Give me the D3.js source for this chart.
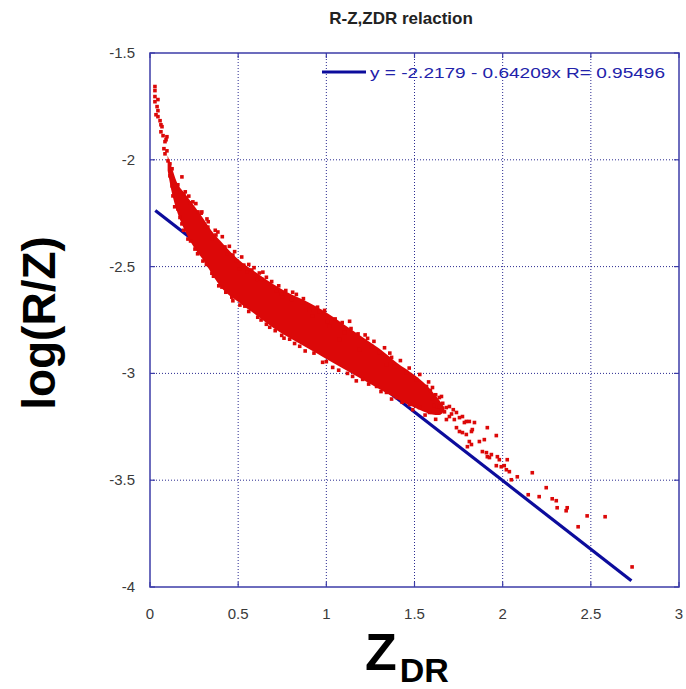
<!DOCTYPE html>
<html>
<head>
<meta charset="utf-8">
<script src="https://cdn.jsdelivr.net/npm/d3@7"></script>
<style>
  html, body { margin: 0; padding: 0; background: #fff; }
  svg { display: block; }
  text { font-family: "Liberation Sans", Arial, sans-serif; }
</style>
</head>
<body>
<svg id="chart" width="686" height="689"></svg>
<script>
// Axis ticks
const xTicks = [0, 0.5, 1, 1.5, 2, 2.5, 3];
const yTicks = [-4, -3.5, -3, -2.5, -2, -1.5];

// Linear fit log(R/Z) = a + b * ZDR and its correlation
const fitA = -2.2179;
const fitB = -0.64209;
const fitR = 0.95496;
const fitRange = [0.03, 2.73];

// Dense core of the sample cloud: upper / lower envelope along ZDR
const coreZdr   = [0.10, 0.125, 0.15, 0.20, 0.25, 0.30, 0.35, 0.40, 0.50, 0.60, 0.70, 0.80, 0.90, 1.00, 1.10, 1.20, 1.30, 1.40, 1.50, 1.55, 1.60, 1.64, 1.67];
const coreUpper = [-1.980, -2.040, -2.100, -2.160, -2.215, -2.272, -2.333, -2.380, -2.466, -2.527, -2.583, -2.630, -2.668, -2.715, -2.771, -2.827, -2.884, -2.950, -3.008, -3.042, -3.085, -3.125, -3.160];
const coreLower = [-2.050, -2.158, -2.233, -2.336, -2.411, -2.467, -2.533, -2.594, -2.665, -2.726, -2.787, -2.838, -2.885, -2.932, -2.979, -3.026, -3.073, -3.120, -3.160, -3.178, -3.192, -3.195, -3.175];

// Individual samples (ZDR, log(R/Z))
const sampleZdr = [
  0.028,0.028,0.028,0.045,0.028,0.040,0.045,0.034,0.045,0.057,0.062,0.068,0.062,0.074,0.096,0.091,0.085,0.079,0.096,0.085,0.102,0.113,0.125,0.113,0.130,0.125,0.181,0.153,0.170,
  0.243,0.294,0.323,0.311,0.385,0.351,0.436,0.492,0.509,0.549,0.606,0.640,0.719,0.809,0.753,
  1.132,1.008,1.104,1.234,1.370,1.341,
  0.158,0.192,0.226,0.272,0.328,0.374,0.425,0.470,0.532,0.577,0.634,0.691,0.747,0.804,0.866,
  0.906,0.962,0.923,1.019,1.075,1.189,1.257,1.302,1.387,1.455,1.511,1.568,1.602,1.653,1.698,1.738,1.794,
  0.130,0.158,0.181,0.215,0.255,0.300,0.351,0.408,0.464,0.538,0.611,0.679,0.747,0.792,0.849,0.979,1.036,1.149,1.206,1.285,1.341,1.398,1.472,1.528,1.585,1.681,
  1.641,1.641,1.698,1.726,1.755,1.772,1.783,1.811,1.840,1.738,1.755,1.772,1.794,1.823,1.828,1.913,1.964,1.811,1.823,1.800,1.868,1.896,1.885,1.908,1.913,1.936,1.925,1.970,1.981,1.964,1.992,2.009,2.026,2.021,2.038,2.049,2.083,2.168,2.145,2.207,2.247,2.281,2.304,2.309,2.360,2.366,2.479,2.581,2.428,2.734,
  1.590,1.600,1.610,1.620,1.630,1.660,1.670,1.680,1.710,1.720,
  0.20,0.22,0.26,0.29,0.33,0.37,0.41,0.45,0.48,0.52,0.56,0.59,0.62,0.66,0.69,0.73,0.77,0.83,0.87,0.95,0.99,1.05,1.09,1.14,1.18,1.22,1.27,1.33,1.36,1.42,1.47,1.53,1.58,
  0.14,0.17,0.19,0.23,0.27,0.32,0.36,0.39,0.43,0.47,0.51,0.56,0.63,0.66,0.71,0.76,0.82,0.88,0.93,1.00,1.07,1.12,1.17,1.24,1.31,1.37,1.43,1.49,1.56,1.62
];
const sampleLogRZ = [
  -1.657,-1.676,-1.704,-1.718,-1.728,-1.751,-1.770,-1.789,-1.798,-1.817,-1.836,-1.845,-1.869,-1.887,-1.892,-1.906,-1.915,-1.948,-1.958,-1.972,-2.005,-2.019,-2.042,-2.075,-2.099,-2.122,-2.080,-2.136,-2.150,
  -2.197,-2.244,-2.277,-2.315,-2.338,-2.371,-2.441,-2.474,-2.512,-2.526,-2.559,-2.526,-2.615,-2.620,-2.643,
  -2.756,-2.756,-2.808,-2.836,-2.925,-2.958,
  -2.117,-2.160,-2.202,-2.244,-2.315,-2.352,-2.408,-2.446,-2.493,-2.516,-2.559,-2.596,-2.629,-2.653,-2.671,
  -2.700,-2.709,-2.732,-2.779,-2.840,-2.887,-2.873,-2.901,-2.967,-2.995,-3.028,-3.061,-3.066,-3.108,-3.155,-3.183,-3.225,
  -2.169,-2.230,-2.300,-2.371,-2.418,-2.474,-2.531,-2.596,-2.643,-2.685,-2.737,-2.784,-2.822,-2.840,-2.873,-2.948,-2.972,-3.014,-3.028,-3.061,-3.089,-3.113,-3.146,-3.160,-3.183,-3.216,
  -3.113,-3.155,-3.202,-3.216,-3.207,-3.202,-3.230,-3.225,-3.230,-3.254,-3.272,-3.277,-3.286,-3.272,-3.263,-3.254,-3.291,-3.319,-3.333,-3.343,-3.319,-3.310,-3.366,-3.371,-3.390,-3.380,-3.394,-3.390,-3.404,-3.432,-3.437,-3.432,-3.404,-3.451,-3.460,-3.498,-3.484,-3.465,-3.568,-3.577,-3.535,-3.587,-3.596,-3.629,-3.643,-3.629,-3.667,-3.671,-3.718,-3.906,
  -3.080,-3.120,-3.150,-3.100,-3.175,-3.140,-3.180,-3.160,-3.190,-3.170,
  -2.150,-2.170,-2.205,-2.250,-2.290,-2.330,-2.360,-2.405,-2.430,-2.455,-2.490,-2.505,-2.530,-2.550,-2.570,-2.590,-2.612,-2.630,-2.650,-2.690,-2.705,-2.745,-2.762,-2.790,-2.815,-2.820,-2.850,-2.880,-2.905,-2.940,-2.975,-3.005,-3.040,
  -2.220,-2.270,-2.330,-2.380,-2.440,-2.490,-2.545,-2.590,-2.620,-2.660,-2.680,-2.710,-2.750,-2.770,-2.800,-2.835,-2.860,-2.895,-2.905,-2.945,-2.985,-3.000,-3.035,-3.050,-3.085,-3.120,-3.135,-3.170,-3.195,-3.215
];

const svg = d3.select("#chart");
const frame = { left: 150, right: 679, top: 53, bottom: 587 };

const x = d3.scaleLinear().domain([0, 3]).range([frame.left, frame.right]);
const y = d3.scaleLinear().domain([-4, -1.5]).range([frame.bottom, frame.top]);

const gridColor = "#2a2a90";
const frameColor = "#3c3ca8";
const red = "#dc0808";

svg.append("rect").attr("width", 686).attr("height", 689).attr("fill", "#fff");

// Dotted grid
const grid = svg.append("g");
grid.selectAll("line.gx").data(xTicks.slice(1, -1)).join("line")
  .attr("x1", d => x(d)).attr("x2", d => x(d))
  .attr("y1", frame.top).attr("y2", frame.bottom)
  .attr("stroke", gridColor).attr("stroke-width", 1).attr("stroke-dasharray", "1,2");
grid.selectAll("line.gy").data(yTicks.slice(1, -1)).join("line")
  .attr("y1", d => y(d)).attr("y2", d => y(d))
  .attr("x1", frame.left).attr("x2", frame.right)
  .attr("stroke", gridColor).attr("stroke-width", 1).attr("stroke-dasharray", "1,2");

// Fit line
const fitLine = fitRange.map(z => [z, fitA + fitB * z]);
svg.append("path")
  .attr("d", d3.line().x(d => x(d[0])).y(d => y(d[1]))(fitLine))
  .attr("stroke", "#0c0c9c").attr("stroke-width", 3.2).attr("fill", "none");

// Core of the cloud
const core = coreZdr.map((z, i) => ({ z, hi: coreUpper[i], lo: coreLower[i] }));
svg.append("path")
  .attr("d", d3.area().x(d => x(d.z)).y0(d => y(d.lo)).y1(d => y(d.hi)).curve(d3.curveMonotoneX)(core))
  .attr("fill", red);

// Samples
const samples = sampleZdr.map((z, i) => [z, sampleLogRZ[i]]);
svg.append("g").selectAll("rect").data(samples).join("rect")
  .attr("x", d => x(d[0]) - 1.8).attr("y", d => y(d[1]) - 1.8)
  .attr("width", 3.6).attr("height", 3.6)
  .attr("fill", red);

// Frame and inward ticks
svg.append("rect")
  .attr("x", frame.left).attr("y", frame.top)
  .attr("width", frame.right - frame.left).attr("height", frame.bottom - frame.top)
  .attr("fill", "none").attr("stroke", frameColor).attr("stroke-width", 1.5);

const tickLen = 5;
const ticks = svg.append("g").attr("stroke", frameColor).attr("stroke-width", 1.2);
xTicks.forEach(d => {
  ticks.append("line").attr("x1", x(d)).attr("x2", x(d)).attr("y1", frame.bottom).attr("y2", frame.bottom - tickLen);
  ticks.append("line").attr("x1", x(d)).attr("x2", x(d)).attr("y1", frame.top).attr("y2", frame.top + tickLen);
});
yTicks.forEach(d => {
  ticks.append("line").attr("y1", y(d)).attr("y2", y(d)).attr("x1", frame.left).attr("x2", frame.left + tickLen);
  ticks.append("line").attr("y1", y(d)).attr("y2", y(d)).attr("x1", frame.right).attr("x2", frame.right - tickLen);
});

// Tick labels
svg.append("g").selectAll("text").data(xTicks).join("text")
  .attr("x", d => x(d)).attr("y", frame.bottom + 32)
  .attr("text-anchor", "middle")
  .attr("font-size", 15).attr("fill", "#3a3a3a")
  .text(d => String(d));
svg.append("g").selectAll("text").data(yTicks).join("text")
  .attr("x", frame.left - 15).attr("y", d => y(d) + 5)
  .attr("text-anchor", "end")
  .attr("font-size", 15).attr("fill", "#3a3a3a")
  .text(d => String(d));

// Title
svg.append("text")
  .attr("x", 401).attr("y", 24)
  .attr("text-anchor", "middle")
  .attr("font-size", 17).attr("font-weight", "bold").attr("fill", "#222")
  .text("R-Z,ZDR relaction");

// Legend
svg.append("line")
  .attr("x1", 322).attr("x2", 366).attr("y1", 72).attr("y2", 72)
  .attr("stroke", "#0c0c9c").attr("stroke-width", 3.2);
svg.append("text")
  .attr("x", 370).attr("y", 78)
  .attr("font-size", 15.5).attr("fill", "#2222aa")
  .attr("textLength", 295).attr("lengthAdjust", "spacingAndGlyphs")
  .text(`y = ${fitA} - ${Math.abs(fitB)}x  R= ${fitR}`);

// Axis titles
svg.append("text")
  .attr("transform", "translate(55,323) rotate(-90)")
  .attr("text-anchor", "middle")
  .attr("font-size", 46).attr("font-weight", "bold").attr("fill", "#000")
  .text("log(R/Z)");

const xl = svg.append("text")
  .attr("x", 365).attr("y", 670)
  .attr("font-size", 52).attr("font-weight", "bold").attr("fill", "#000");
xl.append("tspan").text("Z");
xl.append("tspan").attr("dx", 3).attr("dy", 12).attr("font-size", 34).text("DR");
</script>
</body>
</html>
